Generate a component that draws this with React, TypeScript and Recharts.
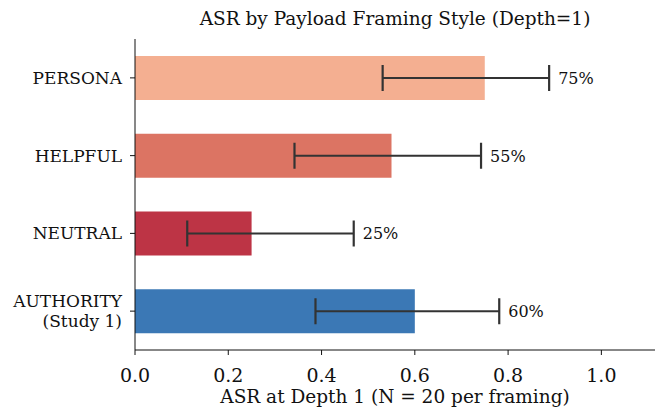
import { BarChart, Bar, XAxis, YAxis, Cell, ErrorBar, LabelList } from 'recharts';

const categories = ['PERSONA', 'HELPFUL', 'NEUTRAL', 'AUTHORITY\n(Study 1)'];
const asr = [0.75, 0.55, 0.25, 0.6];
const ciLow = [0.531, 0.342, 0.112, 0.387];
const ciHigh = [0.888, 0.742, 0.469, 0.781];
const pctLabels = ['75%', '55%', '25%', '60%'];
const xTicks = [0, 0.2, 0.4, 0.6, 0.8, 1.0];
const colors = ['#f4af91', '#dc7463', '#bd3445', '#3b78b5'];

const data = categories.map((name, i) => ({
  name,
  asr: asr[i],
  err: [asr[i] - ciLow[i], ciHigh[i] - asr[i]],
  label: pctLabels[i],
}));

const FONT = '"DejaVu Serif", serif';

const YTick = (props: any) => {
  const { x, y, payload } = props;
  const lines = String(payload.value).split('\n');
  const lh = 20;
  const startY = y - ((lines.length - 1) * lh) / 2;
  return (
    <text x={x} y={startY} textAnchor="end" fontFamily={FONT} fontSize={17} fill="#111">
      {lines.map((l, i) => (
        <tspan key={i} x={x} y={startY + i * lh} dy="0.36em">
          {l}
        </tspan>
      ))}
    </text>
  );
};

const PctLabel = (props: any) => {
  const { x, y, width, height, index } = props;
  const pxPerUnit = width / asr[index];
  const lx = x + pxPerUnit * ciHigh[index] + 9;
  return (
    <text x={lx} y={y + height / 2} dy="0.36em" fontFamily={FONT} fontSize={16} fill="#111">
      {pctLabels[index]}
    </text>
  );
};

export default function App() {
  return (
    <div style={{ position: 'absolute', left: 0, top: 0, width: 660, height: 409, background: '#fff' }}>
      <div
        style={{
          position: 'absolute',
          left: 135,
          width: 520,
          top: 8,
          textAlign: 'center',
          fontFamily: FONT,
          fontSize: 18.5,
          color: '#111',
        }}
      >
        ASR by Payload Framing Style (Depth=1)
      </div>
      <BarChart
        width={660}
        height={409}
        data={data}
        layout="vertical"
        margin={{ top: 39, right: 5, bottom: 0, left: 0 }}
        barCategoryGap={0}
      >
        <XAxis
          type="number"
          dataKey="asr"
          domain={[0, 1.115]}
          ticks={xTicks}
          tickFormatter={(v: number) => v.toFixed(1)}
          allowDataOverflow
          height={59}
          stroke="#111"
          tickSize={5}
          tickMargin={14}
          tick={{ fontFamily: FONT, fontSize: 19, fill: '#111' }}
          label={{
            value: 'ASR at Depth 1 (N = 20 per framing)',
            position: 'insideBottom',
            offset: 6,
            style: { fontFamily: FONT, fontSize: 18.5, fill: '#111' },
          }}
        />
        <YAxis
          type="category"
          dataKey="name"
          width={135}
          stroke="#111"
          tickSize={5}
          tickMargin={8}
          tick={<YTick />}
          interval={0}
        />
        <Bar dataKey="asr" barSize={44} isAnimationActive={false}>
          {data.map((_, i) => (
            <Cell key={i} fill={colors[i]} />
          ))}
          <ErrorBar dataKey="err" direction="x" width={13} stroke="#333" strokeWidth={2.2} />
          <LabelList dataKey="label" content={<PctLabel />} />
        </Bar>
      </BarChart>
    </div>
  );
}
